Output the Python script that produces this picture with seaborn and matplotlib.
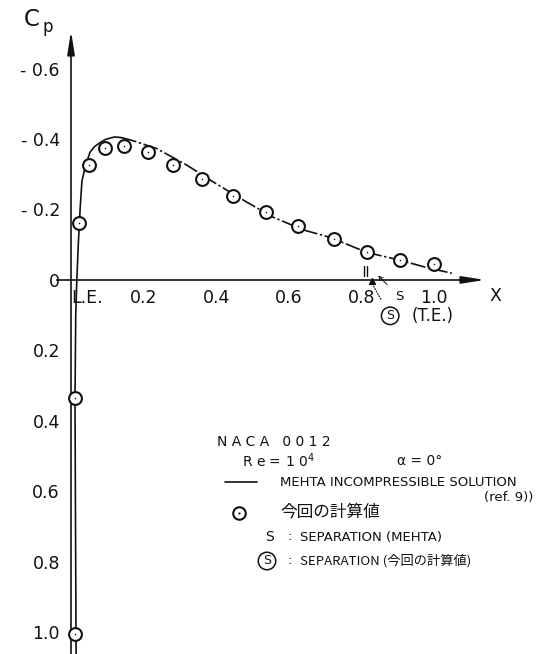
import matplotlib
matplotlib.use("Agg")
import matplotlib.pyplot as plt
import seaborn as sns
import pandas as pd

# ---------------- data ----------------
# Mehta incompressible solution (Cp vs x/c)
mehta_x = [0.014, 0.012, 0.011, 0.013, 0.016, 0.020, 0.025, 0.030, 0.039, 0.052,
           0.064, 0.080, 0.095, 0.112, 0.121, 0.140,
           0.172, 0.236, 0.319, 0.392, 0.484, 0.557, 0.640, 0.713, 0.815,
           0.906, 0.980, 1.049]
mehta_cp = [1.0625, 0.60, 0.34, 0.10, 0.00, -0.10, -0.20, -0.28, -0.321, -0.362,
            -0.378, -0.390, -0.399, -0.404, -0.406, -0.404,
            -0.395, -0.373, -0.326, -0.278, -0.221, -0.178, -0.142, -0.121, -0.078,
            -0.056, -0.035, -0.019]
solid_until = 16  # first points drawn solid, the rest dashed

# present computation (circles)
calc_x = [0.012, 0.012, 0.022, 0.050, 0.094, 0.147, 0.211, 0.282, 0.361, 0.445,
          0.536, 0.625, 0.723, 0.816, 0.906, 1.000]
calc_cp = [1.007, 0.334, -0.161, -0.327, -0.376, -0.381, -0.362, -0.327, -0.286,
           -0.239, -0.194, -0.153, -0.116, -0.079, -0.057, -0.045]

sep_mehta_x = 0.846
sep_calc_x = 0.828

xticks = [0.0, 0.2, 0.4, 0.6, 0.8, 1.0]
xtick_labels = ["L.E.", "0.2", "0.4", "0.6", "0.8", "1.0"]
yticks = [-0.6, -0.4, -0.2, 0.0, 0.2, 0.4, 0.6, 0.8, 1.0]
ytick_labels = ["- 0.6", "- 0.4", "- 0.2", "0", "0.2", "0.4", "0.6", "0.8", "1.0"]

# ---------------- style ----------------
sns.set_style("white")
plt.rcParams["font.family"] = ["DejaVu Sans", "Noto Sans CJK JP"]
JP = ["Noto Sans CJK JP", "DejaVu Sans"]
INK = "#111111"

W, H = 539, 654
fig = plt.figure(figsize=(W / 100, H / 100), dpi=100)
ax = fig.add_axes([0, 0, 1, 1])
ax.set_facecolor("white")
ax.set_xlim(-0.1956, 1.289)
ax.set_ylim(1.0625, -0.795)


def px(x, y):
    return (x / W, 1 - y / H)


# curve
df_m = pd.DataFrame({"x": mehta_x, "cp": mehta_cp})
sns.lineplot(data=df_m.iloc[:solid_until], x="x", y="cp", sort=False,
             estimator=None, color=INK, lw=1.2, ax=ax)
sns.lineplot(data=df_m.iloc[solid_until - 1:], x="x", y="cp", sort=False,
             estimator=None, color=INK, lw=1.2, ax=ax)
ax.lines[-1].set_dashes([9, 1.6, 1.4, 1.6])

# computed points: circle with centre dot
df_c = pd.DataFrame({"x": calc_x, "cp": calc_cp})
sns.scatterplot(data=df_c, x="x", y="cp", marker="o", s=85, facecolor="white",
                edgecolor=INK, linewidth=1.5, ax=ax, zorder=5)
sns.scatterplot(data=df_c, x="x", y="cp", marker="o", s=1.2, color=INK,
                edgecolor=INK, linewidth=0, ax=ax, zorder=6)

# axes
for s in ["top", "right"]:
    ax.spines[s].set_visible(False)
ax.spines["left"].set_position(("data", 0))
ax.spines["bottom"].set_position(("data", 0))
ax.spines["left"].set_bounds(-0.67, 1.0625)
ax.spines["bottom"].set_bounds(-0.039, 1.10)
for s in ["left", "bottom"]:
    ax.spines[s].set_linewidth(1.2)
    ax.spines[s].set_color(INK)
ax.annotate("", xy=(0, -0.715), xytext=(0, -0.64),
            arrowprops=dict(arrowstyle="-|>,head_length=1.4,head_width=0.22",
                            color=INK, lw=1.2))
ax.annotate("", xy=(1.148, 0), xytext=(1.09, 0),
            arrowprops=dict(arrowstyle="-|>,head_length=1.4,head_width=0.22",
                            color=INK, lw=1.2))

ax.set_xticks(xticks, xtick_labels)
ax.set_yticks(yticks, ytick_labels)
ax.tick_params(axis="both", direction="inout", length=7, width=1, color=INK,
               labelsize=12.5, labelcolor=INK)
ax.tick_params(axis="y", pad=4.5)
ax.tick_params(axis="x", pad=3)
ax.get_xticklabels()[0].set_horizontalalignment("left")
ax.set_xlabel("")
ax.set_ylabel("")

# axis titles
ax.text(*px(24, 20), "C", transform=ax.transAxes, fontsize=16.5, ha="left",
        va="center", color=INK)
ax.text(*px(43, 27), "p", transform=ax.transAxes, fontsize=12, ha="left",
        va="center", color=INK)
ax.text(1.168, 0.045, "X", fontsize=12.5, ha="center", va="center", color=INK)

# separation marks
ax.plot([0.807, 0.807], [-0.040, -0.012], color=INK, lw=1)
ax.plot([0.815, 0.815], [-0.040, -0.012], color=INK, lw=1)
ax.annotate("S", xy=(sep_mehta_x, -0.012), xytext=(0.905, 0.048),
            fontsize=9.5, ha="center", va="center", color=INK,
            arrowprops=dict(arrowstyle="->,head_length=0.3,head_width=0.15",
                            color=INK, lw=0.7, shrinkA=5, shrinkB=0))
ax.scatter([sep_calc_x], [0.004], marker="^", s=18, color=INK, zorder=6)
ax.annotate("S", xy=(sep_calc_x, 0.008), xytext=(0.879, 0.102),
            fontsize=9, ha="center", va="center", color=INK,
            bbox=dict(boxstyle="circle,pad=0.18", fc="white", ec=INK, lw=1.1),
            arrowprops=dict(arrowstyle="-", linestyle=(0, (1, 1.5)),
                            color=INK, lw=0.8, shrinkA=7, shrinkB=2))
ax.text(0.995, 0.102, "(T.E.)", fontsize=12, ha="center", va="center", color=INK)

# legend block
lfs = 9.5
ax.text(*px(217, 442), "N A C A   0 0 1 2", transform=ax.transAxes,
        fontsize=lfs + 0.5, ha="left", va="center", color=INK)
ax.text(*px(242, 461), "R e = 1 0$^{4}$", transform=ax.transAxes,
        fontsize=lfs + 0.5, ha="left", va="center", color=INK)
ax.text(*px(397, 461), "α = 0°", transform=ax.transAxes,
        fontsize=lfs + 0.5, ha="left", va="center", color=INK)
ax.plot([225 / W, 257 / W], [1 - 482 / H, 1 - 482 / H], transform=ax.transAxes,
        color=INK, lw=1.2)
ax.text(*px(280, 482), "MEHTA INCOMPRESSIBLE SOLUTION", transform=ax.transAxes,
        fontsize=lfs, ha="left", va="center", color=INK)
ax.text(*px(533, 497), "(ref. 9))", transform=ax.transAxes,
        fontsize=lfs, ha="right", va="center", color=INK)
ax.plot([239 / W], [1 - 513 / H], transform=ax.transAxes, marker="o", ms=9,
        mfc="white", mec=INK, mew=1.5)
ax.plot([239 / W], [1 - 513 / H], transform=ax.transAxes, marker="o", ms=1.6,
        mew=0, color=INK)
ax.text(*px(280, 513), "今回の計算値", transform=ax.transAxes, family=JP,
        fontsize=12, ha="left", va="center", color=INK)
ax.text(*px(270, 537), "S", transform=ax.transAxes, fontsize=lfs + 0.5,
        ha="center", va="center", color=INK)
ax.text(*px(290, 537), ":", transform=ax.transAxes, fontsize=lfs,
        ha="center", va="center", color=INK)
ax.text(*px(300, 537), "SEPARATION (MEHTA)", transform=ax.transAxes,
        fontsize=lfs, ha="left", va="center", color=INK)
ax.text(*px(267, 561), "S", transform=ax.transAxes, fontsize=9,
        ha="center", va="center", color=INK,
        bbox=dict(boxstyle="circle,pad=0.18", fc="white", ec=INK, lw=1.1))
ax.text(*px(290, 561), ":", transform=ax.transAxes, fontsize=lfs,
        ha="center", va="center", color=INK)
ax.text(*px(300, 561), "SEPARATION (今回の計算値)", transform=ax.transAxes,
        family=JP, fontsize=lfs, ha="left", va="center", color=INK)

fig.savefig("out.png", dpi=100, facecolor="white")
